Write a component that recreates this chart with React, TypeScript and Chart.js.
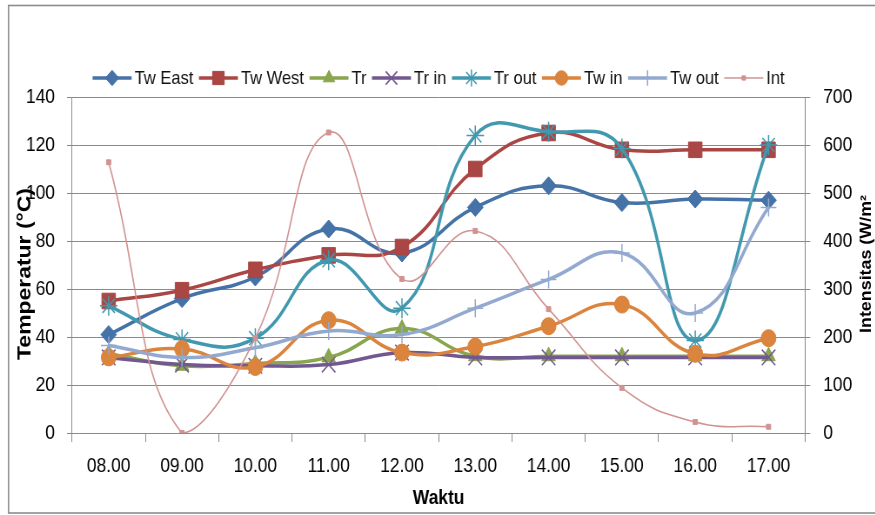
import React, { useEffect, useRef } from 'react';
import { Chart, registerables } from 'chart.js';
import { drawPoint } from 'chart.js/helpers';

Chart.register(...registerables);

// ---- data ----
const categories = ['08.00', '09.00', '10.00', '11.00', '12.00', '13.00', '14.00', '15.00', '16.00', '17.00'];
const twEast = [41, 56, 65, 85, 75, 94, 103, 96, 97.5, 97];
const twWest = [55, 59.5, 68, 74, 77.5, 110, 125, 118, 118, 118];
const tr = [33, 28, 29, 31.5, 43.5, 32, 32, 32, 32, 32];
const trIn = [31.5, 28.5, 28, 28.5, 33.5, 31.5, 31.5, 31.5, 31.5, 31.5];
const trOut = [53, 39, 39.5, 72, 52, 124, 125.5, 118.5, 38.5, 120];
const twIn = [31.5, 35, 27.5, 47, 33.5, 36, 44.5, 53.5, 33, 39.5];
const twOut = [36.5, 31.5, 35.5, 42.5, 41, 52, 64, 75, 50, 94];
const intensity = [564, 0, 198, 626, 321, 421, 258, 94, 23, 13];

const leftTicks = { min: 0, max: 140, step: 20 };
const rightTicks = { min: 0, max: 700, step: 100 };

const xTitle = 'Waktu';
const yTitle = 'Temperatur (°C)';
const y2Title = 'Intensitas (W/m²';

// ---- layout / styles ----
// The reference is horizontally condensed; the chart is drawn on a wider canvas and squeezed.
const SX = 0.87;
const VIEW_W = 875;
const VIEW_H = 515;
const W = Math.round(VIEW_W / SX);
const H = VIEW_H;
const px = (v: number) => v / SX; // screen-x length -> logical length

const FONT = '"Liberation Sans", Arial, sans-serif';
const GRID = '#8a8a8a';

type S = { label: string; data: number[]; color: string; style: any; radius: number; width: number; axis: string; pbw: number };
const series: S[] = [
  { label: 'Tw East', data: twEast, color: '#4572A7', style: 'rectRot', radius: 9, width: 3.5, axis: 'y', pbw: 1 },
  { label: 'Tw West', data: twWest, color: '#AA4643', style: 'rect', radius: 11, width: 3.5, axis: 'y', pbw: 1 },
  { label: 'Tr', data: tr, color: '#89A54E', style: 'triangle', radius: 9, width: 3.5, axis: 'y', pbw: 1 },
  { label: 'Tr in', data: trIn, color: '#71588F', style: 'crossRot', radius: 11, width: 3.5, axis: 'y', pbw: 1.5 },
  { label: 'Tr out', data: trOut, color: '#4198AF', style: 'star', radius: 10, width: 3.5, axis: 'y', pbw: 1.5 },
  { label: 'Tw in', data: twIn, color: '#DB843D', style: 'circle', radius: 8.5, width: 3.5, axis: 'y', pbw: 1 },
  { label: 'Tw out', data: twOut, color: '#93A9CF', style: 'cross', radius: 9, width: 3.5, axis: 'y', pbw: 1.5 },
  { label: 'Int', data: intensity, color: '#D19392', style: 'rect', radius: 3.5, width: 1.6, axis: 'y2', pbw: 1 },
];

const framePlugin = {
  id: 'frame',
  beforeDraw(chart: any) {
    const ctx = chart.ctx;
    ctx.save();
    ctx.fillStyle = '#fff';
    ctx.fillRect(0, 0, chart.width, chart.height);
    ctx.strokeStyle = '#8c8c8c';
    ctx.lineWidth = 1.6;
    ctx.strokeRect(px(8.5), 5.5, chart.width + 20, 507.5);
    ctx.restore();
  },
};

function drawRotated(ctx: CanvasRenderingContext2D, text: string, x: number, y: number, targetLen: number) {
  ctx.save();
  ctx.font = 'bold 20px ' + FONT;
  const w = ctx.measureText(text).width;
  const size = (20 * targetLen) / w;
  ctx.font = `bold ${size.toFixed(2)}px ${FONT}`;
  ctx.translate(x, y);
  ctx.rotate(-Math.PI / 2);
  ctx.textAlign = 'center';
  ctx.textBaseline = 'middle';
  ctx.fillStyle = '#000';
  ctx.fillText(text, 0, 0);
  ctx.restore();
}

const decorPlugin = {
  id: 'decor',
  afterDraw(chart: any) {
    const ctx: CanvasRenderingContext2D = chart.ctx;
    const ca = chart.chartArea;
    const cx = (ca.left + ca.right) / 2;
    ctx.save();
    ctx.font = 'bold 20px ' + FONT;
    ctx.fillStyle = '#000';
    ctx.textAlign = 'center';
    ctx.textBaseline = 'middle';
    ctx.fillText(xTitle, cx, 498);
    ctx.restore();
    drawRotated(ctx, yTitle, px(25), 274, 172);
    drawRotated(ctx, y2Title, px(867), 264, 138);

    // legend (line + marker, Excel style)
    ctx.save();
    ctx.font = '19px ' + FONT;
    const lineLen = px(39);
    const gapText = px(3);
    const gapItem = px(5.5);
    const widths = series.map((s) => lineLen + gapText + ctx.measureText(s.label).width);
    const total = widths.reduce((a, b) => a + b, 0) + gapItem * (series.length - 1);
    let x = cx - total / 2;
    const y = 78;
    series.forEach((s, i) => {
      ctx.strokeStyle = s.color;
      ctx.lineWidth = s.width;
      ctx.beginPath();
      ctx.moveTo(x, y);
      ctx.lineTo(x + lineLen, y);
      ctx.stroke();
      ctx.fillStyle = s.color;
      ctx.lineWidth = s.pbw;
      drawPoint(ctx, { pointStyle: s.style, rotation: 0, borderWidth: s.pbw, radius: s.radius * 0.85 } as any, x + lineLen / 2, y);
      ctx.fillStyle = '#111';
      ctx.textAlign = 'left';
      ctx.textBaseline = 'middle';
      ctx.fillText(s.label, x + lineLen + gapText, y + 1);
      x += widths[i] + gapItem;
    });
    ctx.restore();
  },
};

export default function App() {
  const ref = useRef<HTMLCanvasElement | null>(null);
  useEffect(() => {
    if (!ref.current) return;
    Chart.defaults.font.family = FONT;
    Chart.defaults.font.size = 20;
    Chart.defaults.color = '#000';
    const chart = new Chart(ref.current, {
      type: 'line',
      data: {
        labels: categories,
        datasets: series.map((s, i) => ({
          label: s.label,
          data: s.data,
          yAxisID: s.axis,
          borderColor: s.color,
          backgroundColor: s.color,
          borderWidth: s.width,
          pointStyle: s.style,
          pointRadius: s.radius,
          pointBorderWidth: s.pbw,
          pointBackgroundColor: s.color,
          pointBorderColor: s.color,
          tension: 0.45,
          fill: false,
          order: series.length - i,
        })),
      },
      options: {
        responsive: false,
        animation: false,
        devicePixelRatio: 1,
        layout: { padding: { top: 97, left: 0, right: 0, bottom: 0 } },
        plugins: { legend: { display: false }, tooltip: { enabled: false }, title: { display: false } },
        scales: {
          x: {
            offset: true,
            grid: { display: true, drawOnChartArea: false, drawTicks: true, tickLength: 9, offset: true, color: GRID },
            border: { display: true, color: GRID, width: 1 },
            ticks: { padding: 12, maxRotation: 0, autoSkip: false, color: '#000' },
            afterFit: (s: any) => { s.height = 82; },
          },
          y: {
            position: 'left',
            min: leftTicks.min,
            max: leftTicks.max,
            ticks: { stepSize: leftTicks.step, padding: px(12), color: '#000' },
            grid: { drawOnChartArea: true, drawTicks: true, tickLength: px(5), color: GRID },
            border: { display: true, color: GRID, width: 1 },
            afterFit: (s: any) => { s.width = px(72); },
          },
          y2: {
            position: 'right',
            min: rightTicks.min,
            max: rightTicks.max,
            ticks: { stepSize: rightTicks.step, padding: px(13), color: '#000' },
            grid: { drawOnChartArea: false, drawTicks: true, tickLength: px(5), color: GRID },
            border: { display: true, color: GRID, width: 1 },
            afterFit: (s: any) => { s.width = px(70); },
          },
        },
      },
      plugins: [framePlugin, decorPlugin],
    } as any);
    return () => chart.destroy();
  }, []);
  return (
    <div style={{ position: 'fixed', left: 0, top: 0, width: VIEW_W, height: VIEW_H, overflow: 'hidden', background: '#fff' }}>
      <div style={{ width: W, height: H, transform: `scaleX(${SX})`, transformOrigin: '0 0' }}>
        <canvas ref={ref} width={W} height={H} style={{ display: 'block', width: W, height: H }} />
      </div>
    </div>
  );
}
